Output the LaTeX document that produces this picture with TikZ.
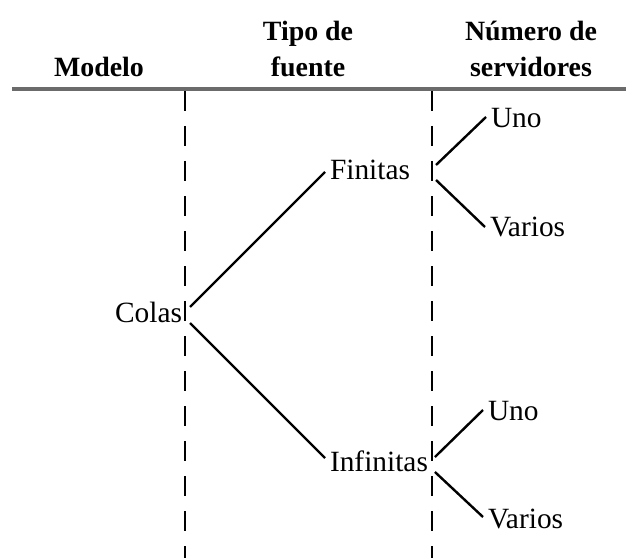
\documentclass[tikz,border=0pt]{standalone}
\usepackage{fontspec}
\setmainfont{Liberation Serif}
\begin{document}
\begin{tikzpicture}[x=1bp,y=-1bp,
  body/.style={inner sep=0pt,outer sep=0pt,font=\fontsize{29.5}{34}\selectfont},
  head/.style={inner sep=0pt,outer sep=0pt,align=center,font=\fontsize{28}{37}\selectfont\bfseries},
  branch/.style={line width=2.4bp,black},
  divider/.style={line width=2bp,black,dash pattern=on 20bp off 15bp},
  rule/.style={line width=3.5bp,black!58}]
\useasboundingbox[fill=white] (0,0) rectangle (626,558);
% headers
\node[head,anchor=base] (hmod) at (99,77) {Modelo};
\node[head,anchor=base] (htipo) at (308,77) {Tipo de\\fuente};
\node[head,anchor=base] (hnum) at (531,77) {Número de\\servidores};
\coordinate (rl) at (12,89);
\coordinate (rr) at (626,89);
\draw[rule] (rl) -- (rr);
% dividers
\coordinate (d1t) at (185,91);
\coordinate (d1b) at (185,558);
\coordinate (d2t) at (432,91);
\coordinate (d2b) at (432,558);
\draw[divider] (d1t) -- (d1b);
\draw[divider] (d2t) -- (d2b);
% nodes
\node[body,anchor=base east] (colas) at (182,322) {Colas};
\node[body,anchor=base west] (fin) at (330,180) {Finitas};
\node[body,anchor=base west] (inf) at (330,471) {Infinitas};
\node[body,anchor=base west] (uno1) at (491,128) {Uno};
\node[body,anchor=base west] (var1) at (490,237) {Varios};
\node[body,anchor=base west] (uno2) at (488,420) {Uno};
\node[body,anchor=base west] (var2) at (488,528) {Varios};
% connectors
\draw[branch] ([shift={(8,-15)}]colas.base east) -- ([shift={(-5,-8)}]fin.base west);
\draw[branch] ([shift={(8,1)}]colas.base east) -- ([shift={(-5,-13)}]inf.base west);
\draw[branch] ([shift={(26,-15)}]fin.base east) -- ([shift={(-5,-11)}]uno1.base west);
\draw[branch] ([shift={(26,0)}]fin.base east) -- ([shift={(-5,-10)}]var1.base west);
\draw[branch] ([shift={(7,-14)}]inf.base east) -- ([shift={(-5,-10)}]uno2.base west);
\draw[branch] ([shift={(7,1)}]inf.base east) -- ([shift={(-5,-11)}]var2.base west);
\end{tikzpicture}
\end{document}
